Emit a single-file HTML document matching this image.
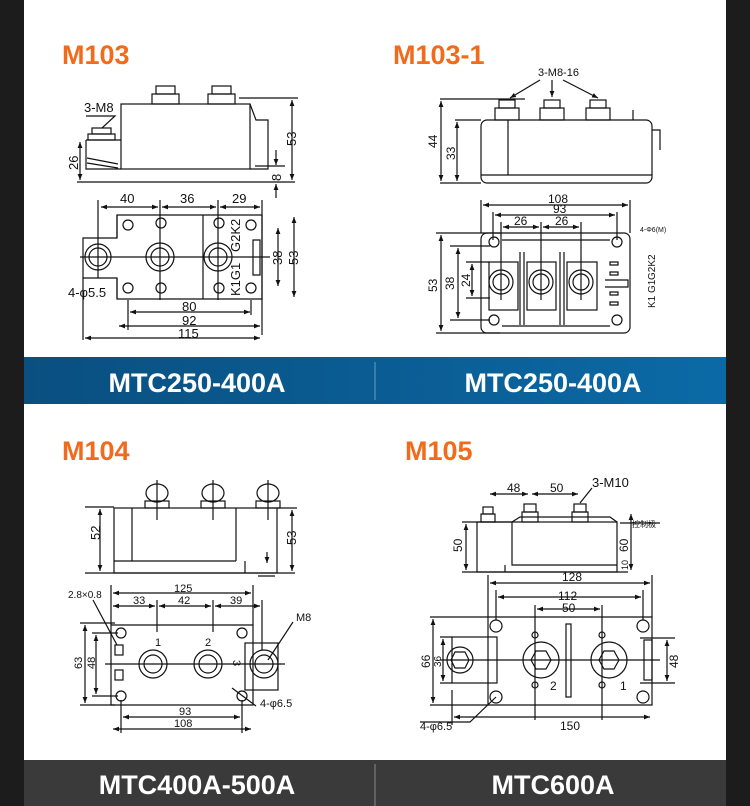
<!DOCTYPE html>
<html><head><meta charset="utf-8"><style>
html,body{margin:0;padding:0;background:#1c1c1c;}
svg{display:block;}
text{font-family:"Liberation Sans",sans-serif;}
.t{font-weight:bold;fill:#f26a1b;font-size:27px;}
.b{font-weight:bold;fill:#fff;font-size:27px;}
.d{font-size:13px;fill:#111;}
.s{font-size:10px;fill:#111;font-family:"Liberation Serif",serif;}
</style></head><body>
<svg width="750" height="806" viewBox="0 0 750 806" xmlns="http://www.w3.org/2000/svg">
<defs>
<linearGradient id="bg" x1="0" x2="1"><stop offset="0" stop-color="#0a4f80"/><stop offset="1" stop-color="#0b6aa6"/></linearGradient>
<marker id="a" viewBox="0 0 10 10" refX="10" refY="5" markerWidth="5" markerHeight="5" orient="auto-start-reverse"><path d="M0,1 L10,5 L0,9z" fill="#111"/></marker>
</defs>
<rect x="0" y="0" width="750" height="806" fill="#1c1c1c"/>
<rect x="24" y="0" width="702" height="806" fill="#fff"/>
<rect x="24" y="357" width="702" height="47" fill="url(#bg)"/>
<line x1="375" y1="362" x2="375" y2="400" stroke="#6a9cc4" stroke-width="1"/>
<text class="b" x="197" y="392" text-anchor="middle">MTC250-400A</text>
<text class="b" x="553" y="392" text-anchor="middle">MTC250-400A</text>
<rect x="24" y="760" width="702" height="46" fill="#3a3a3a"/>
<line x1="375" y1="764" x2="375" y2="806" stroke="#888"/>
<text class="b" x="197" y="794" text-anchor="middle">MTC400A-500A</text>
<text class="b" x="553" y="794" text-anchor="middle">MTC600A</text>

<text class="t" x="62" y="64">M103</text>
<text class="t" x="393" y="64">M103-1</text>
<text class="t" x="62" y="460">M104</text>
<text class="t" x="405" y="460">M105</text>

<g fill="none" stroke="#111" stroke-width="1.2">
<!-- M103 side -->
<rect x="121" y="104" width="129" height="65"/>
<rect x="152" y="94" width="27" height="10"/><rect x="156" y="86" width="19" height="8"/>
<rect x="208" y="94" width="27" height="10"/><rect x="212" y="86" width="19" height="8"/>
<rect x="88" y="134" width="27" height="6"/><rect x="92" y="128" width="19" height="6"/>
<path d="M86,140 H121 M86,140 V169 H121 M87,158 L118,164 M87,163 L118,168"/>
<path d="M250,104 L256,120 H268 V169 H250"/>
<path d="M77,182 H295 M239,98 H298 M255,166 H285 M86,116 H115 L102,128"/>
<line x1="292" y1="100" x2="292" y2="180" marker-start="url(#a)" marker-end="url(#a)"/>
<line x1="80" y1="142" x2="80" y2="180" marker-start="url(#a)" marker-end="url(#a)"/>
<line x1="276" y1="150" x2="276" y2="165" marker-end="url(#a)"/>
<line x1="276" y1="198" x2="276" y2="184" marker-end="url(#a)"/>
<!-- M103 top -->
<path d="M117,215 H262 V299 H117 V278 H83 V238 H117z"/>
<path d="M117,238 V215 M117,278 V299 M203,215 V299"/>
<circle cx="98" cy="257" r="13"/><circle cx="98" cy="257" r="9"/>
<circle cx="160" cy="257" r="14"/><circle cx="160" cy="257" r="9"/>
<circle cx="218" cy="257" r="14"/><circle cx="218" cy="257" r="9"/>
<circle cx="128" cy="225" r="5"/><circle cx="161" cy="223" r="5"/><circle cx="219" cy="223" r="5"/><circle cx="251" cy="225" r="5"/>
<circle cx="128" cy="288" r="5"/><circle cx="161" cy="288" r="5"/><circle cx="219" cy="288" r="5"/><circle cx="251" cy="288" r="5"/>
<path d="M253,240 h7 v35 h-7z M80,257 H270 M98,200 V278 M160,200 V300 M218,200 V300 M262,200 V335"/>
<line x1="101" y1="207" x2="158" y2="207" marker-start="url(#a)" marker-end="url(#a)"/>
<line x1="162" y1="207" x2="216" y2="207" marker-start="url(#a)" marker-end="url(#a)"/>
<line x1="220" y1="207" x2="260" y2="207" marker-start="url(#a)" marker-end="url(#a)"/>
<line x1="130" y1="312" x2="250" y2="312" marker-start="url(#a)" marker-end="url(#a)"/>
<line x1="119" y1="326" x2="260" y2="326" marker-start="url(#a)" marker-end="url(#a)"/>
<line x1="85" y1="338" x2="260" y2="338" marker-start="url(#a)" marker-end="url(#a)"/>
<line x1="278" y1="228" x2="278" y2="286" marker-start="url(#a)" marker-end="url(#a)"/>
<line x1="294" y1="217" x2="294" y2="297" marker-start="url(#a)" marker-end="url(#a)"/>
<path d="M128,300 V330 M251,300 V315 M83,278 V340"/>
<!-- M103-1 side -->
<rect x="481" y="120" width="171" height="63" rx="6"/>
<rect x="495" y="108" width="24" height="12"/><rect x="499" y="100" width="16" height="8"/>
<rect x="540" y="108" width="24" height="12"/><rect x="544" y="100" width="16" height="8"/>
<rect x="586" y="108" width="24" height="12"/><rect x="590" y="100" width="16" height="8"/>
<path d="M508,120 V175 M481,175 H652 M633,110 V120 M652,130 H660 V150"/>
<path d="M440,99 H525 M455,120 H481 M440,183 H481"/>
<line x1="441" y1="101" x2="441" y2="181" marker-start="url(#a)" marker-end="url(#a)"/>
<line x1="457" y1="122" x2="457" y2="181" marker-start="url(#a)" marker-end="url(#a)"/>
<line x1="540" y1="80" x2="510" y2="98" marker-end="url(#a)"/>
<line x1="552" y1="80" x2="552" y2="97" marker-end="url(#a)"/>
<line x1="563" y1="80" x2="598" y2="98" marker-end="url(#a)"/>
<!-- M103-1 top -->
<rect x="481" y="233" width="149" height="100" rx="6"/>
<rect x="489" y="262" width="29" height="48"/><rect x="527" y="262" width="29" height="48"/><rect x="567" y="262" width="30" height="48"/>
<path d="M520,252 V325 M524,252 V325 M560,252 V325 M564,252 V325 M502,240 H610 M502,326 H610"/>
<circle cx="501" cy="282" r="12"/><circle cx="501" cy="282" r="8"/>
<circle cx="541" cy="282" r="12"/><circle cx="541" cy="282" r="8"/>
<circle cx="581" cy="282" r="12"/><circle cx="581" cy="282" r="8"/>
<circle cx="494" cy="242" r="5"/><circle cx="617" cy="242" r="5"/><circle cx="494" cy="320" r="5"/><circle cx="617" cy="320" r="5"/>
<path d="M481,200 V233 M630,200 V233 M493,212 V240 M617,212 V240 M501,222 V300 M541,222 V300 M581,222 V300 M436,233 H500 M450,246 H490 M466,262 H490 M466,298 H490 M450,320 H490 M436,333 H500"/>
<line x1="483" y1="205" x2="628" y2="205" marker-start="url(#a)" marker-end="url(#a)"/>
<line x1="495" y1="215" x2="615" y2="215" marker-start="url(#a)" marker-end="url(#a)"/>
<line x1="503" y1="227" x2="539" y2="227" marker-start="url(#a)" marker-end="url(#a)"/>
<line x1="543" y1="227" x2="579" y2="227" marker-start="url(#a)" marker-end="url(#a)"/>
<line x1="441" y1="235" x2="441" y2="331" marker-start="url(#a)" marker-end="url(#a)"/>
<line x1="458" y1="248" x2="458" y2="318" marker-start="url(#a)" marker-end="url(#a)"/>
<line x1="472" y1="264" x2="472" y2="296" marker-start="url(#a)" marker-end="url(#a)"/>
<path d="M610,262 h8 v3 h-8z M610,272 h8 v3 h-8z M610,292 h8 v3 h-8z M610,302 h8 v3 h-8z M605,280 H628 V287 H605"/>
<!-- M104 side -->
<rect x="114" y="508" width="163" height="65"/>
<path d="M132,508 V561 M236,508 V561 M114,561 H236 M245,561 V573 M85,507 H114 M85,573 H295 M277,508 H297 M258,576 H275"/>
<ellipse cx="157" cy="493" rx="11" ry="9"/><rect x="145" y="501" width="24" height="7"/>
<ellipse cx="213" cy="493" rx="11" ry="9"/><rect x="201" y="501" width="24" height="7"/>
<ellipse cx="268" cy="493" rx="11" ry="9"/><rect x="256" y="501" width="24" height="7"/>
<path d="M157,480 V520 M213,480 V520 M268,480 V520"/>
<line x1="100" y1="509" x2="100" y2="571" marker-start="url(#a)" marker-end="url(#a)"/>
<line x1="292" y1="510" x2="292" y2="571" marker-start="url(#a)" marker-end="url(#a)"/>
<line x1="267" y1="552" x2="267" y2="563" marker-end="url(#a)"/>
<!-- M104 top -->
<path d="M111,625 H253 V705 H111z"/>
<rect x="245" y="643" width="33" height="47"/>
<circle cx="121" cy="633" r="5"/><circle cx="242" cy="633" r="5"/><circle cx="121" cy="696" r="5"/><circle cx="242" cy="696" r="5"/>
<circle cx="153" cy="664" r="14"/><circle cx="153" cy="664" r="9"/>
<circle cx="208" cy="664" r="14"/><circle cx="208" cy="664" r="9"/>
<circle cx="264" cy="664" r="14"/><circle cx="264" cy="664" r="9"/>
<rect x="115" y="645" width="8" height="10"/><rect x="115" y="670" width="8" height="10"/>
<path d="M105,664 H285 M111,585 V625 M253,585 V625 M157,600 V632 M213,600 V632 M262,600 V650 M121,700 V733 M242,700 V733 M80,623 H115 M92,633 H118 M92,696 H118 M80,705 H115"/>
<line x1="113" y1="593" x2="251" y2="593" marker-start="url(#a)" marker-end="url(#a)"/>
<line x1="113" y1="606" x2="155" y2="606" marker-start="url(#a)" marker-end="url(#a)"/>
<line x1="159" y1="606" x2="211" y2="606" marker-start="url(#a)" marker-end="url(#a)"/>
<line x1="215" y1="606" x2="260" y2="606" marker-start="url(#a)" marker-end="url(#a)"/>
<line x1="123" y1="717" x2="240" y2="717" marker-start="url(#a)" marker-end="url(#a)"/>
<line x1="113" y1="729" x2="251" y2="729" marker-start="url(#a)" marker-end="url(#a)"/>
<line x1="85" y1="625" x2="85" y2="703" marker-start="url(#a)" marker-end="url(#a)"/>
<line x1="96" y1="635" x2="96" y2="694" marker-start="url(#a)" marker-end="url(#a)"/>
<path d="M93,600 L117,645 M293,622 L268,660 M256,706 L232,688"/>
<!-- M105 side -->
<rect x="477" y="522" width="140" height="50"/>
<path d="M512,522 V565 H617 M505,565 V572 M477,522 H512 M512,522 L520,517 H610 L617,522 M462,522 H477 M462,572 H628"/>
<rect x="481" y="514" width="14" height="8"/><rect x="483" y="507" width="10" height="7"/>
<rect x="522" y="512" width="16" height="10"/><rect x="524" y="504" width="12" height="8"/>
<rect x="572" y="512" width="16" height="10"/><rect x="574" y="504" width="12" height="8"/>
<line x1="466" y1="524" x2="466" y2="570" marker-start="url(#a)" marker-end="url(#a)"/>
<line x1="631" y1="514" x2="631" y2="570" marker-start="url(#a)" marker-end="url(#a)"/>
<line x1="490" y1="494" x2="528" y2="494" marker-start="url(#a)" marker-end="url(#a)"/>
<line x1="532" y1="494" x2="578" y2="494" marker-start="url(#a)" marker-end="url(#a)"/>
<path d="M592,488 L580,503 M620,523 H660"/>
<!-- M105 top -->
<path d="M488,617 H652 V705 H488z"/>
<rect x="452" y="637" width="45" height="46"/>
<rect x="566" y="624" width="5" height="73"/>
<circle cx="496" cy="626" r="6"/><circle cx="643" cy="626" r="6"/><circle cx="496" cy="697" r="6"/><circle cx="643" cy="697" r="6"/>
<circle cx="460" cy="660" r="13"/><polygon points="451,660 455,652 465,652 469,660 465,668 455,668"/>
<circle cx="541" cy="660" r="18"/><polygon points="531,660 536,651 546,651 551,660 546,669 536,669"/>
<circle cx="609" cy="660" r="18"/><polygon points="599,660 604,651 614,651 619,660 614,669 604,669"/>
<circle cx="535" cy="635" r="3"/><circle cx="602" cy="635" r="3"/><circle cx="535" cy="685" r="3"/><circle cx="602" cy="685" r="3"/>
<rect x="644" y="640" width="8" height="40"/>
<path d="M440,660 H660 M488,575 V617 M652,575 V617 M496,590 V620 M643,590 V620 M535,605 V720 M602,605 V720 M430,617 H488 M440,637 H452 M440,683 H452 M430,705 H488 M640,638 H675 M640,683 H675 M452,690 V725"/>
<line x1="490" y1="583" x2="650" y2="583" marker-start="url(#a)" marker-end="url(#a)"/>
<line x1="498" y1="597" x2="641" y2="597" marker-start="url(#a)" marker-end="url(#a)"/>
<line x1="537" y1="609" x2="600" y2="609" marker-start="url(#a)" marker-end="url(#a)"/>
<line x1="454" y1="717" x2="650" y2="717" marker-start="url(#a)" marker-end="url(#a)"/>
<line x1="433" y1="619" x2="433" y2="703" marker-start="url(#a)" marker-end="url(#a)"/>
<line x1="443" y1="639" x2="443" y2="681" marker-start="url(#a)" marker-end="url(#a)"/>
<line x1="667" y1="640" x2="667" y2="681" marker-start="url(#a)" marker-end="url(#a)"/>
<path d="M420,722 H470 L496,697"/>
</g>

<g class="d">
<text x="84" y="112">3-M8</text>
<text x="78" y="170" transform="rotate(-90 78 170)">26</text>
<text x="296" y="146" transform="rotate(-90 296 146)">53</text>
<text x="281" y="181" transform="rotate(-90 281 181)">8</text>
<text x="120" y="203">40</text><text x="180" y="203">36</text><text x="232" y="203">29</text>
<text x="182" y="311">80</text><text x="182" y="325">92</text><text x="178" y="338">115</text>
<text x="282" y="265" transform="rotate(-90 282 265)">38</text>
<text x="298" y="265" transform="rotate(-90 298 265)">53</text>
<text x="68" y="297">4-φ5.5</text>
<text x="240" y="296" transform="rotate(-90 240 296)">K1G1</text>
<text x="240" y="252" transform="rotate(-90 240 252)">G2K2</text>
<text x="100" y="540" transform="rotate(-90 100 540)">52</text>
<text x="296" y="545" transform="rotate(-90 296 545)">53</text>
<text x="296" y="621" font-size="11">M8</text>
<text x="260" y="707" font-size="11">4-φ6.5</text>
<text x="592" y="487">3-M10</text>
<text x="420" y="730" font-size="11">4-φ6.5</text>
</g>
<g class="s">
<text x="538" y="76" font-size="11">3-M8-16</text>
<text x="437" y="148" font-size="12" transform="rotate(-90 437 148)">44</text>
<text x="455" y="160" font-size="12" transform="rotate(-90 455 160)">33</text>
<text x="548" y="203" font-size="12">108</text><text x="553" y="213" font-size="12">93</text>
<text x="514" y="225" font-size="12">26</text><text x="555" y="225" font-size="12">26</text>
<text x="437" y="292" font-size="12" transform="rotate(-90 437 292)">53</text>
<text x="454" y="290" font-size="12" transform="rotate(-90 454 290)">38</text>
<text x="470" y="287" font-size="12" transform="rotate(-90 470 287)">24</text>
<text x="640" y="232" font-size="7">4-Φ6(M)</text>
<text x="655" y="308" font-size="10" transform="rotate(-90 655 308)">K1 G1</text>
<text x="655" y="280" font-size="10" transform="rotate(-90 655 280)">G2K2</text>
<text x="68" y="598" font-family="Liberation Sans" font-size="10">2.8×0.8</text>
<text x="174" y="592" font-size="11">125</text>
<text x="133" y="604" font-size="11">33</text><text x="178" y="604" font-size="11">42</text><text x="230" y="604" font-size="11">39</text>
<text x="179" y="715" font-size="11">93</text><text x="174" y="727" font-size="11">108</text>
<text x="82" y="669" font-size="11" transform="rotate(-90 82 669)">63</text>
<text x="95" y="669" font-size="11" transform="rotate(-90 95 669)">48</text>
<text x="155" y="646" font-size="11">1</text><text x="205" y="646" font-size="11">2</text>
<text x="233" y="660" font-size="11" transform="rotate(90 233 660)">3</text>
<text x="507" y="492" font-size="12">48</text><text x="550" y="492" font-size="12">50</text>
<text x="462" y="552" font-size="12" transform="rotate(-90 462 552)">50</text>
<text x="628" y="552" font-size="12" transform="rotate(-90 628 552)">60</text>
<text x="628" y="570" font-size="9" transform="rotate(-90 628 570)">10</text>
<text x="632" y="527" font-family="Noto Sans CJK SC" font-size="8">控制极</text>
<text x="562" y="581" font-size="12">128</text>
<text x="558" y="600" font-size="12">112</text><text x="562" y="612" font-size="12">50</text>
<text x="560" y="730" font-size="12">150</text>
<text x="430" y="668" font-size="12" transform="rotate(-90 430 668)">66</text>
<text x="441" y="667" font-size="10" transform="rotate(-90 441 667)">36</text>
<text x="678" y="668" font-size="12" transform="rotate(-90 678 668)">48</text>
<text x="550" y="690" font-size="12">2</text><text x="620" y="690" font-size="12">1</text>
</g>
</svg>
</body></html>
